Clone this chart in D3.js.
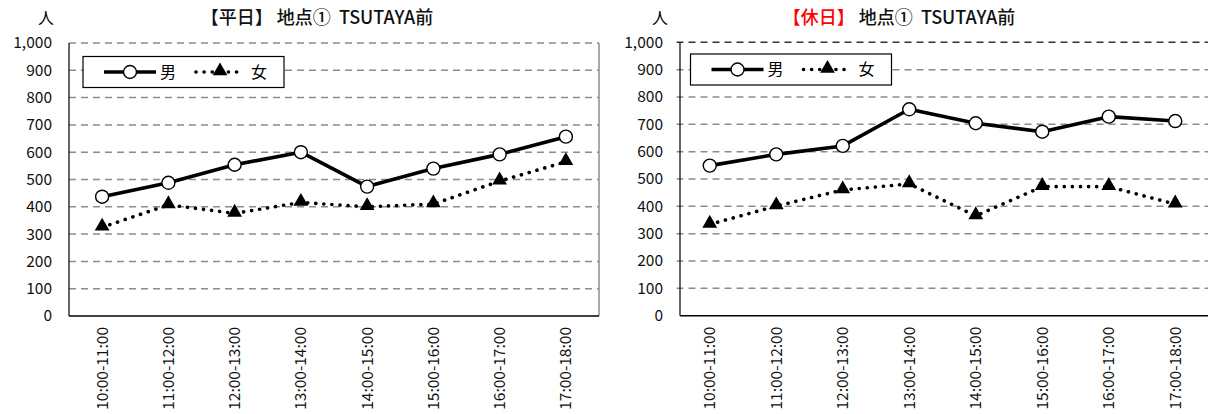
<!DOCTYPE html>
<html>
<head>
<meta charset="utf-8">
<script src="https://cdn.jsdelivr.net/npm/d3@7"></script>
<style>
  body { margin: 0; background: #fff; }
  svg { display: block; font-family: "Noto Sans CJK JP", "Noto Sans", sans-serif; }
</style>
</head>
<body>
<div id="chart"></div>
<script>
const timeSlots = ['10:00-11:00', '11:00-12:00', '12:00-13:00', '13:00-14:00',
                   '14:00-15:00', '15:00-16:00', '16:00-17:00', '17:00-18:00'];
const yTicks = [0, 100, 200, 300, 400, 500, 600, 700, 800, 900, 1000];

const weekdayMale = [437, 488, 554, 600, 474, 540, 592, 657];
const weekdayFemale = [325, 407, 376, 416, 400, 410, 494, 565];
const holidayMale = [549, 590, 621, 755, 704, 673, 728, 712];
const holidayFemale = [334, 401, 460, 482, 365, 472, 472, 408];

const svg = d3.select('#chart').append('svg')
    .attr('width', 1208)
    .attr('height', 414);

const triangle = d3.symbol().type(d3.symbolTriangle).size(95);

const drawChart = function(opts) {
    const g = svg.append('g');
    const x = d3.scaleBand().domain(timeSlots).range([opts.x0, opts.x1]);
    const y = d3.scaleLinear().domain([0, 1000]).range([opts.yBottom, opts.yTop]);
    const cx = d => x(d) + x.bandwidth() / 2;

    // gridlines
    g.selectAll('.grid')
        .data(yTicks.filter(t => t > 0))
        .enter().append('line')
        .attr('x1', opts.x0).attr('x2', opts.x1)
        .attr('y1', d => y(d)).attr('y2', d => y(d))
        .attr('stroke', d => (d === 1000 && opts.darkTop) ? '#333' : '#8c8c8c')
        .attr('stroke-width', 1.5)
        .attr('stroke-dasharray', '7,5');

    if (opts.frame) {
        g.append('line')
            .attr('x1', opts.x1).attr('x2', opts.x1)
            .attr('y1', y(1000)).attr('y2', y(0))
            .attr('stroke', '#8c8c8c').attr('stroke-width', 1.5);
    }

    // axes lines
    g.append('line')
        .attr('x1', opts.axisX).attr('x2', opts.axisX)
        .attr('y1', y(1000)).attr('y2', y(0))
        .attr('stroke', '#000').attr('stroke-width', 1.2);
    g.append('line')
        .attr('x1', opts.axisX).attr('x2', opts.x1)
        .attr('y1', y(0)).attr('y2', y(0))
        .attr('stroke', '#000').attr('stroke-width', 1.5);

    // y tick labels
    g.selectAll('.ytick')
        .data(yTicks)
        .enter().append('text')
        .attr('x', opts.axisX - 17)
        .attr('y', d => y(d))
        .attr('dy', '0.35em')
        .attr('text-anchor', 'end')
        .attr('font-size', 15.5)
        .attr('fill', '#111')
        .text(d => d3.format(',')(d));

    // x labels
    g.selectAll('.xtick')
        .data(timeSlots)
        .enter().append('text')
        .attr('transform', d => `translate(${cx(d) + 5.5},${y(0) + 11}) rotate(-90)`)
        .attr('text-anchor', 'end')
        .attr('font-size', 15.5)
        .attr('fill', '#111')
        .text(d => d);

    // female line (dotted)
    const line = d3.line().x((d, i) => cx(timeSlots[i])).y(d => y(d));
    g.append('path')
        .attr('d', line(opts.female))
        .attr('fill', 'none')
        .attr('stroke', '#000')
        .attr('stroke-width', 3.6)
        .attr('stroke-linecap', 'round')
        .attr('stroke-dasharray', '0.1,8');

    g.selectAll('.tri')
        .data(opts.female)
        .enter().append('path')
        .attr('d', triangle)
        .attr('transform', (d, i) => `translate(${cx(timeSlots[i])},${y(d) - 1})`)
        .attr('fill', '#000');

    // male line
    g.append('path')
        .attr('d', line(opts.male))
        .attr('fill', 'none')
        .attr('stroke', '#000')
        .attr('stroke-width', 3.6)
        .attr('stroke-linejoin', 'round');

    g.selectAll('.dot')
        .data(opts.male)
        .enter().append('circle')
        .attr('cx', (d, i) => cx(timeSlots[i]))
        .attr('cy', d => y(d))
        .attr('r', 6.5)
        .attr('fill', '#fff')
        .attr('stroke', '#000')
        .attr('stroke-width', 1.4);

    // legend
    const lx = opts.legend[0], ly = opts.legend[1];
    const lg = g.append('g').attr('transform', `translate(${lx},${ly})`);
    lg.append('rect')
        .attr('width', 201).attr('height', 31)
        .attr('fill', '#fff').attr('stroke', '#000').attr('stroke-width', 1.2);
    lg.append('line')
        .attr('x1', 21).attr('x2', 73).attr('y1', 15.5).attr('y2', 15.5)
        .attr('stroke', '#000').attr('stroke-width', 3.6);
    lg.append('circle')
        .attr('cx', 47).attr('cy', 15.5).attr('r', 6.5)
        .attr('fill', '#fff').attr('stroke', '#000').attr('stroke-width', 1.4);
    lg.append('text')
        .attr('x', 77).attr('y', 15.5).attr('dy', '0.36em')
        .attr('font-size', 16).text('男');
    lg.append('line')
        .attr('x1', 113).attr('x2', 161).attr('y1', 15.5).attr('y2', 15.5)
        .attr('stroke', '#000').attr('stroke-width', 3.6)
        .attr('stroke-linecap', 'round').attr('stroke-dasharray', '0.1,8');
    lg.append('path')
        .attr('d', triangle)
        .attr('transform', 'translate(137,14.5)')
        .attr('fill', '#000');
    lg.append('text')
        .attr('x', 168).attr('y', 15.5).attr('dy', '0.36em')
        .attr('font-size', 16).text('女');

    // unit label
    g.append('text')
        .attr('x', opts.unitX).attr('y', 18).attr('dy', '0.35em')
        .attr('text-anchor', 'middle')
        .attr('font-size', 16).text('人');

    // title
    const t = g.append('text')
        .attr('x', opts.titleX).attr('y', 18).attr('dy', '0.35em')
        .attr('text-anchor', 'middle')
        .attr('font-size', 18)
        .attr('font-weight', 500)
        .attr('xml:space', 'preserve')
        .style('white-space', 'pre');
    t.append('tspan').attr('fill', opts.tagColor).text(opts.tag);
    t.append('tspan').attr('fill', '#111').text(' 地点①\u00a0\u00a0TSUTAYA前');
};

drawChart({
    x0: 69, x1: 599, axisX: 69, yTop: 43, yBottom: 316,
    male: weekdayMale, female: weekdayFemale,
    legend: [83, 56.5], unitX: 46, titleX: 317,
    tag: '【平日】', tagColor: '#111', frame: true, darkTop: false
});

drawChart({
    x0: 676.5, x1: 1208.5, axisX: 680, yTop: 42.3, yBottom: 315.7,
    male: holidayMale, female: holidayFemale,
    legend: [690.5, 54], unitX: 660, titleX: 899,
    tag: '【休日】', tagColor: '#ff0000', frame: false, darkTop: true
});
</script>
</body>
</html>
